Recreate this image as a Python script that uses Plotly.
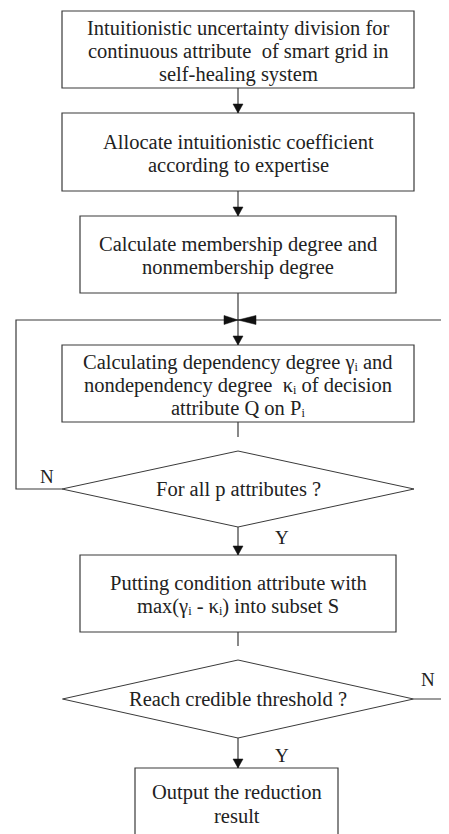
import plotly.graph_objects as go

# ---- content ----
box_labels = [
    ["Intuitionistic uncertainty division for", "continuous attribute  of smart grid in", "self-healing system"],
    ["Allocate intuitionistic coefficient", "according to expertise"],
    ["Calculate membership degree and", "nonmembership degree"],
    ["Calculating dependency degree γᵢ and", "nondependency degree  κᵢ of decision", "attribute Q on Pᵢ"],
    ["Putting condition attribute with", "max(γᵢ - κᵢ) into subset S"],
    ["Output the reduction", "result"],
]
decision_labels = ["For all p attributes ?", "Reach credible threshold ?"]
branch_labels = ["N", "Y", "N", "Y"]

# ---- geometry (pixels, y downward) ----
boxes = [  # x0, x1, y0, y1
    (62, 414, 11, 88),
    (62, 414, 113, 191),
    (80, 396, 216, 293),
    (62, 414, 345, 422),
    (80, 396, 555, 632),
    (135, 338, 768, 837),
]
diamonds = [  # cx, cy, half-width, half-height
    (238, 489, 176, 38),
    (238, 699, 175.5, 39),
]
branch_pos = [(47, 476), (282, 537), (428, 679), (282, 755)]

LC = "#3a3a3a"
TC = "#222222"
FONT = "Liberation Serif, Times New Roman, serif"
FS = 20.5
LINE_GAP = 23
W, H = 449, 834
PAD = 8  # default page body margin

shapes = []

def line(pts):
    path = "M " + " L ".join(f"{x},{y}" for x, y in pts)
    shapes.append(dict(type="path", path=path, line=dict(color=LC, width=1.2),
                       xref="x", yref="y"))

def head(tx, ty, direction):
    L, hw = 9, 5
    if direction == "down":
        pts = [(tx, ty), (tx - hw, ty - L), (tx + hw, ty - L)]
    elif direction == "right":
        pts = [(tx, ty), (tx - 14, ty - 4.5), (tx - 14, ty + 4.5)]
    else:  # left
        pts = [(tx, ty), (tx + 18, ty - 4.5), (tx + 18, ty + 4.5)]
    path = "M " + " L ".join(f"{x},{y}" for x, y in pts) + " Z"
    shapes.append(dict(type="path", path=path, fillcolor="#111", line=dict(color="#111", width=0.5),
                       xref="x", yref="y"))

for (x0, x1, y0, y1) in boxes:
    shapes.append(dict(type="rect", x0=x0, x1=x1, y0=y0, y1=y1, xref="x", yref="y",
                       line=dict(color=LC, width=1.2), fillcolor="white"))
for (cx, cy, hw, hh) in diamonds:
    shapes.append(dict(type="path", xref="x", yref="y",
                       path=f"M {cx},{cy-hh} L {cx+hw},{cy} L {cx},{cy+hh} L {cx-hw},{cy} Z",
                       line=dict(color=LC, width=1.0), fillcolor="white"))

cx = 238
line([(cx, 88), (cx, 113)]); head(cx, 113, "down")
line([(cx, 191), (cx, 216)]); head(cx, 216, "down")
line([(cx, 293), (cx, 345)]); head(cx, 345, "down")
line([(cx, 422), (cx, 437)])
line([(cx, 527), (cx, 555)]); head(cx, 555, "down")
line([(cx, 632), (cx, 646)])
line([(cx, 738), (cx, 768)]); head(cx, 768, "down")
line([(62, 489), (16, 489), (16, 320), (cx, 320)]); head(cx, 320, "right")
line([(W + 2, 320), (cx, 320)]); head(cx, 320, "left")
line([(413.5, 699), (W + 2, 699)])

annotations = []

def text(x, y, s, size=FS):
    annotations.append(dict(x=x, y=y, text=s, showarrow=False, xref="x", yref="y",
                            xanchor="center", yanchor="middle",
                            font=dict(family=FONT, size=size, color=TC)))

for (x0, x1, y0, y1), lines in zip(boxes, box_labels):
    yc = (y0 + y1) / 2 + 1.5
    n = len(lines)
    for k, s in enumerate(lines):
        text((x0 + x1) / 2, yc + (k - (n - 1) / 2) * LINE_GAP, s)
for (dx, dy, hw, hh), lab in zip(diamonds, decision_labels):
    text(dx, dy, lab)
for (bx, by), lab in zip(branch_pos, branch_labels):
    text(bx, by, lab, size=19)

fig = go.Figure()
fig.update_layout(
    width=W - PAD, height=H - PAD, margin=dict(l=0, r=0, t=0, b=0),
    paper_bgcolor="white", plot_bgcolor="white",
    xaxis=dict(range=[PAD, W], visible=False, fixedrange=True),
    yaxis=dict(range=[H, PAD], visible=False, fixedrange=True),
    shapes=shapes, annotations=annotations, showlegend=False,
)
fig.write_html("out.html", config={"displayModeBar": False})
